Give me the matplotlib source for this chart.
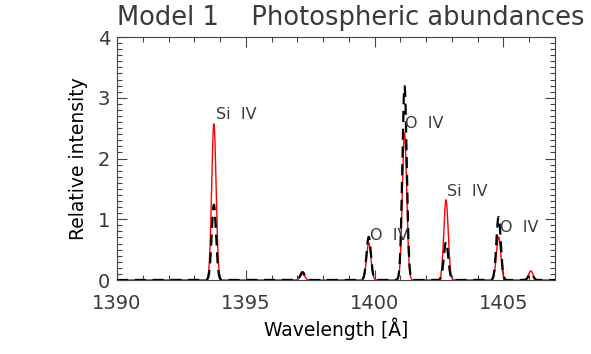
import numpy as np
import matplotlib.pyplot as plt
from matplotlib.ticker import MultipleLocator

# line list (rest wavelengths, Angstrom) and peak intensities
centres = [1393.76, 1397.20, 1399.77, 1401.16, 1402.77, 1404.81, 1406.06]
peak_red = [2.57, 0.10, 0.61, 2.42, 1.32, 0.71, 0.15]
peak_black = [1.24, 0.13, 0.71, 3.19, 0.63, 1.04, 0.11]
sigma = 0.085  # Gaussian width of each line [A]

# labels: text, x, y
labels = ['Si  IV', 'O  IV', 'O  IV', 'Si  IV', 'O  IV']
label_x = [1393.85, 1401.18, 1399.83, 1402.82, 1404.86]
label_y = [2.72, 2.58, 0.74, 1.45, 0.86]

wave = np.linspace(1390, 1407, 4000)


def spectrum(peaks):
    flux = np.zeros_like(wave)
    for c, p in zip(centres, peaks):
        flux += p*np.exp(-0.5*((wave - c)/sigma)**2)
    return flux


plt.rcParams.update({
    'font.family': 'DejaVu Sans',
    'font.size': 13,
    'text.color': '#3a3a3a',
    'axes.edgecolor': '#444444',
    'xtick.color': '#444444',
    'ytick.color': '#444444',
    'xtick.labelcolor': '#3a3a3a',
    'ytick.labelcolor': '#3a3a3a',
})

fig = plt.figure(figsize=(5.91, 3.54), dpi=100)
ax = fig.add_axes([117/591, 1 - 280/354, (555 - 117)/591, (280 - 37)/354])

ax.plot(wave, spectrum(peak_red), color='red', lw=1.0, zorder=2)
ax.plot(wave, spectrum(peak_black), color='black', lw=1.6, dashes=(5, 3), zorder=3)

for t, x, y in zip(labels, label_x, label_y):
    ax.text(x, y, t, fontsize=11.5, va='center', ha='left', color='#3a3a3a')

ax.set_xlim(1390, 1407)
ax.set_ylim(0, 4)
ax.set_xticks([1390, 1395, 1400, 1405])
ax.set_yticks([0, 1, 2, 3, 4])
ax.xaxis.set_minor_locator(MultipleLocator(1))
ax.yaxis.set_minor_locator(MultipleLocator(0.1))
ax.tick_params(which='both', direction='in', top=True, right=True, width=0.8)
ax.tick_params(which='major', length=7)
ax.tick_params(which='minor', length=3.5)
ax.tick_params(axis='x', which='major', labelsize=14, pad=10)
ax.tick_params(axis='y', which='major', labelsize=14, pad=5)

ax.set_xlabel('Wavelength [Å]', fontsize=13.5, labelpad=3)
ax.set_ylabel('Relative intensity', fontsize=13.5, labelpad=7)
fig.text(117/591, 1 - 18/354, 'Model 1    Photospheric abundances', fontsize=18.5,
         ha='left', va='center', color='#3a3a3a')

plt.savefig('out.png', dpi=100)
plt.close()
